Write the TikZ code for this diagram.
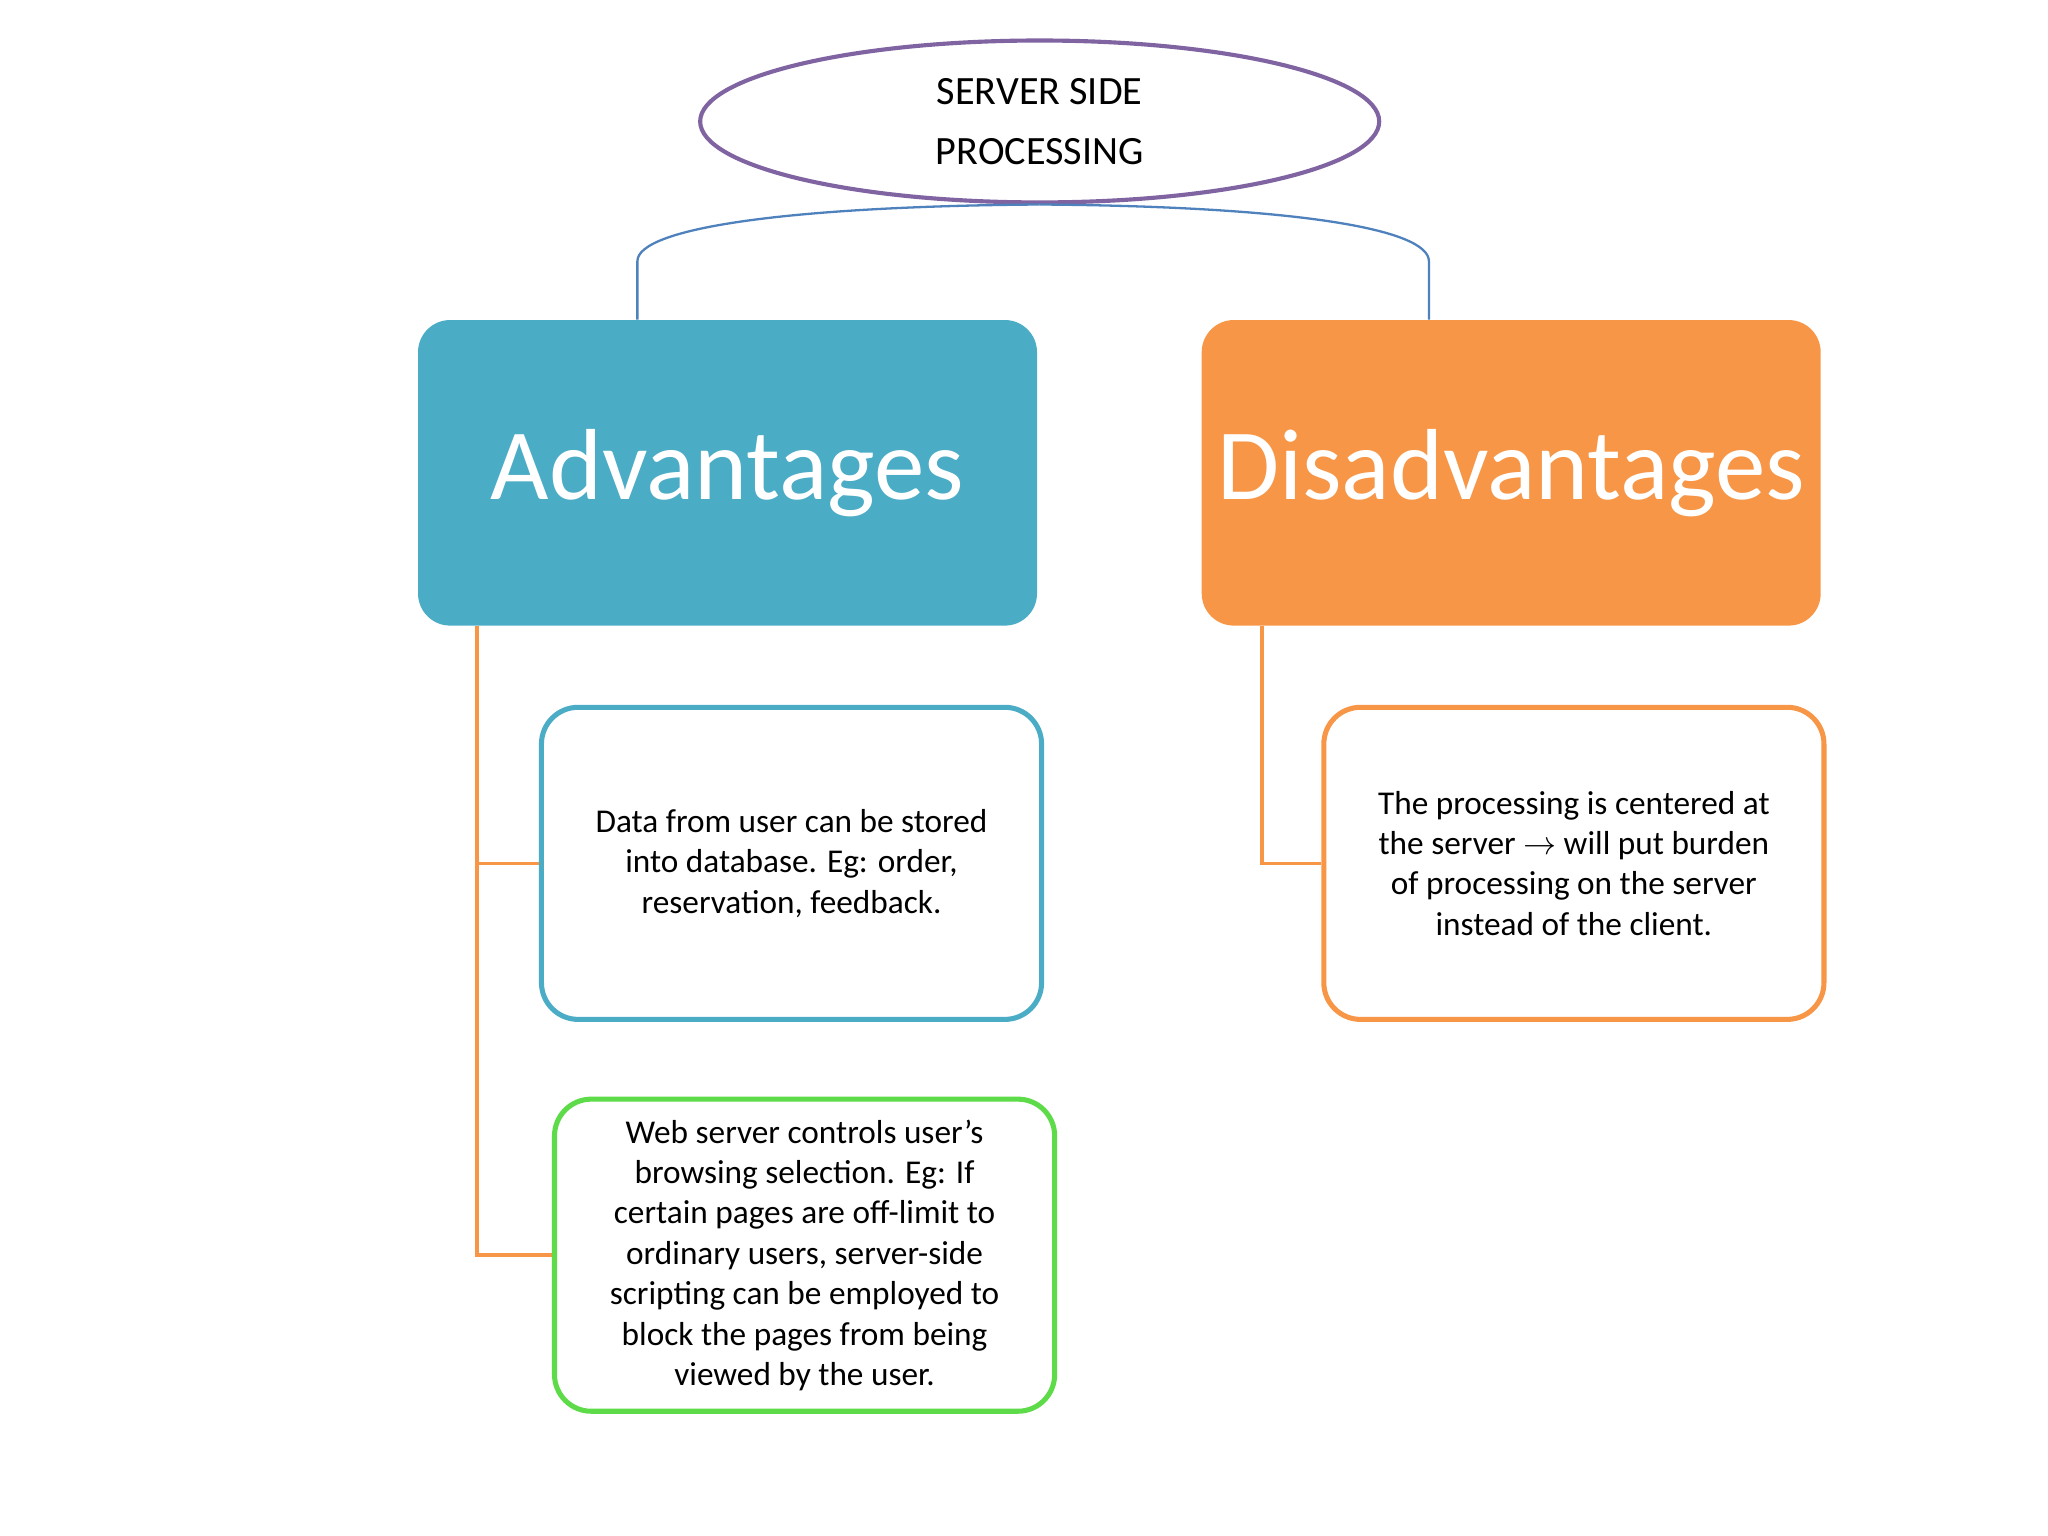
\documentclass[tikz,border=0pt]{standalone}
\usepackage{fontspec}
\setmainfont{Carlito}
\usetikzlibrary{shapes.geometric}
\definecolor{advblue}{HTML}{4BACC6}
\definecolor{disorange}{HTML}{F79646}
\definecolor{topline}{HTML}{8064A2}
\definecolor{linkblue}{HTML}{4F81BD}
\definecolor{boxgreen}{HTML}{5EDB48}
\tikzstyle{headbox}=[rounded corners=14, minimum width=9.48cm, minimum height=4.68cm, text=white, font=\fontsize{44}{50}\selectfont]
\tikzstyle{itembox}=[draw, line width=2.2pt, rounded corners=16, fill=white, minimum width=7.66cm, minimum height=4.78cm, align=center, font=\fontsize{14.5}{17.6}\selectfont]
\tikzstyle{branch}=[disorange, line width=1.6pt]
\begin{document}
\begin{tikzpicture}[x=0.02cm, y=-0.02cm]
  \useasboundingbox (0,0) rectangle (1568,1176);
  % title
  \node[ellipse, draw=topline, line width=1.8pt, minimum width=10.4cm, minimum height=2.48cm,
        align=center, font=\fontsize{17.5}{26}\selectfont] (title) at (796,93) {SERVER SIDE\\PROCESSING};
  % heads
  \node[headbox, fill=advblue] (adv) at (557,362) {Advantages};
  \node[headbox, fill=disorange] (dis) at (1157,362) {Disadvantages};
  \draw[linkblue, line width=1pt] (title.south) .. controls (600,158) and (488,175) .. (488,200) -- (adv.north -| 488,0);
  \draw[linkblue, line width=1pt] (title.south) .. controls (990,158) and (1094,175) .. (1094,200) -- (dis.north -| 1094,0);
  % items
  \node[itembox, draw=advblue] (data) at (606,661)
    {Data from user can be stored\\into database. Eg: order,\\reservation, feedback.};
  \node[itembox, draw=boxgreen] (web) at (616,961)
    {Web server controls user’s\\browsing selection. Eg: If\\certain pages are off-limit to\\ordinary users, server-side\\scripting can be employed to\\block the pages from being\\viewed by the user.};
  \node[itembox, draw=disorange] (burden) at (1205,661)
    {The processing is centered at\\the server $\rightarrow$ will put burden\\of processing on the server\\instead of the client.};
  % branches
  \draw[branch] (adv.south -| 365,0) |- (web.west);
  \draw[branch] (365,661) -- (data.west);
  \draw[branch] (dis.south -| 966,0) |- (burden.west);
\end{tikzpicture}
\end{document}
